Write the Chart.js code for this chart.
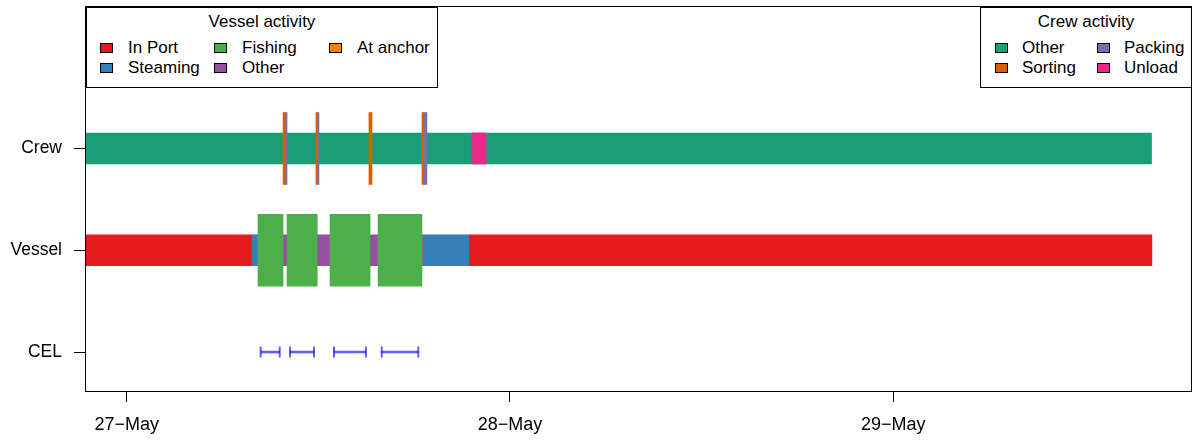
<!DOCTYPE html>
<html>
<head>
<meta charset="utf-8">
<script src="https://cdn.jsdelivr.net/npm/chart.js@4"></script>
<style>
body { margin: 0; background: #fff; }
#wrap { position: relative; width: 1192px; height: 441px; font-family: "Liberation Sans", Arial, sans-serif; }
.legend { position: absolute; top: 7px; height: 81px; border: 1px solid #000; background: #fff; box-sizing: border-box; font-size: 17px; color: #000; }
.legend .title { position: absolute; left: 0; right: 0; top: 4px; line-height: 20px; text-align: center; }
.legend .lab { position: absolute; line-height: 20px; white-space: nowrap; }
.legend .sw { position: absolute; width: 13px; height: 10px; border: 1px solid #000; box-sizing: border-box; }
</style>
</head>
<body>
<div id="wrap">
  <canvas id="chart" width="1192" height="441"></canvas>
  <div class="legend" id="legVessel" style="left:86px;width:352px"></div>
  <div class="legend" id="legCrew" style="left:980px;width:212px"></div>
</div>
<script>
// time in hours since 27-May 00:00
var tickHours = [0, 24, 48];
var tickLabels = ['27\u2212May', '28\u2212May', '29\u2212May'];
var rowLabels = ['CEL', 'Vessel', 'Crew']; // rows 1, 2, 3

// vessel activity
var vesselInPort = [[-2.55, 7.85], [21.43, 64.2]];
var vesselSteaming = [[7.85, 8.3], [18.55, 21.43]];
var vesselOther = [[8.3, 18.55]];
var vesselFishing = [[8.22, 9.79], [10.04, 11.93], [12.73, 15.24], [15.74, 18.49]];

// crew activity
var crewOther = [[-2.55, 64.18]];
var crewUnload = [[21.62, 22.5]];
var crewSorting = [[9.79, 9.96], [11.85, 11.98], [15.17, 15.36], [18.49, 18.61]];
var crewPacking = [[9.96, 10.04], [11.98, 12.04], [18.61, 18.8]];

// CEL hauls
var celHauls = [[8.39, 9.58], [10.23, 11.73], [12.98, 14.98], [15.97, 18.26]];

var vesselNames = ['In Port', 'Steaming', 'Fishing', 'Other', 'At anchor'];
var vesselColors = ['#E41A1C', '#377EB8', '#4DAF4A', '#984EA3', '#FF7F00'];
var crewNames = ['Other', 'Sorting', 'Packing', 'Unload'];
var crewColors = ['#1B9E77', '#D95F02', '#7570B3', '#E7298A'];
var celColor = 'rgba(0, 0, 255, 0.62)';

function segs(list, row) {
    return list.map(function (s) { return { x: s, y: row }; });
}
function bars(label, list, row, color, thick, order) {
    return { type: 'bar', label: label, data: segs(list, row), backgroundColor: color,
        borderWidth: 0, barThickness: thick, grouped: false, order: order };
}

var caps = [];
celHauls.forEach(function (h) { caps.push({ x: h[0], y: 1 }, { x: h[1], y: 1 }); });

// frame round the plot
var boxPlugin = {
    id: 'box',
    afterDraw: function (chart) {
        var c = chart.ctx, a = chart.chartArea;
        c.save();
        c.strokeStyle = '#000';
        c.lineWidth = 1;
        c.strokeRect(a.left - 0.5, a.top - 0.5, a.right - a.left + 1, a.bottom - a.top + 1);
        c.restore();
    }
};

var ctx = document.getElementById('chart').getContext('2d');
var myChart = new Chart(ctx, {
    type: 'bar',
    data: {
        datasets: [
            { type: 'scatter', label: 'CEL caps', data: caps, pointStyle: 'line', rotation: 90,
              radius: 5.5, borderWidth: 2, borderColor: celColor, order: 0 },
            bars('CEL', celHauls, 1, celColor, 2, 1),
            bars('Packing', crewPacking, 3, crewColors[2], 72, 2),
            bars('Sorting', crewSorting, 3, crewColors[1], 72, 3),
            bars('Unload', crewUnload, 3, crewColors[3], 31, 4),
            bars('Crew other', crewOther, 3, crewColors[0], 31, 5),
            bars('Fishing', vesselFishing, 2, vesselColors[2], 72, 2),
            bars('Vessel other', vesselOther, 2, vesselColors[3], 31, 6),
            bars('Steaming', vesselSteaming, 2, vesselColors[1], 31, 6),
            bars('In Port', vesselInPort, 2, vesselColors[0], 31, 6)
        ]
    },
    options: {
        indexAxis: 'y',
        responsive: false,
        animation: false,
        layout: { autoPadding: false, padding: { top: 7, right: 1, left: 0, bottom: 0 } },
        plugins: { legend: { display: false }, tooltip: { enabled: false } },
        scales: {
            x: {
                type: 'linear',
                min: -2.55,
                max: 66.65,
                offset: false,
                border: { display: false },
                grid: { offset: false, drawOnChartArea: false, drawTicks: true, tickLength: 11, color: '#000' },
                afterBuildTicks: function (axis) { axis.ticks = tickHours.map(function (v) { return { value: v }; }); },
                afterFit: function (axis) {
                    axis.height = 50;
                    axis.paddingLeft = 0;
                    axis.paddingRight = 0;
                },
                ticks: {
                    padding: 12,
                    color: '#000',
                    font: { family: '"Liberation Sans", Arial, sans-serif', size: 18 },
                    callback: function (value) { return tickLabels[tickHours.indexOf(value)]; }
                }
            },
            y: {
                type: 'linear',
                min: 0.617,
                max: 4.39,
                offset: false,
                border: { display: false },
                grid: { offset: false, drawOnChartArea: false, drawTicks: true, tickLength: 12, color: '#000' },
                afterBuildTicks: function (axis) { axis.ticks = [1, 2, 3].map(function (v) { return { value: v }; }); },
                afterFit: function (axis) {
                    axis.width = 86;
                    axis.paddingTop = 0;
                    axis.paddingBottom = 0;
                },
                ticks: {
                    padding: 12,
                    color: '#000',
                    font: { family: '"Liberation Sans", Arial, sans-serif', size: 17.5 },
                    callback: function (value) { return rowLabels[value - 1]; }
                }
            }
        }
    },
    plugins: [boxPlugin]
});

// R style legends, filled column by column
function buildLegend(id, title, names, colors, swX, textX) {
    var box = document.getElementById(id);
    var t = document.createElement('div');
    t.className = 'title';
    t.textContent = title;
    box.appendChild(t);
    var rowsY = [39.7, 59.7];
    names.forEach(function (name, i) {
        var col = Math.floor(i / 2), row = i % 2;
        var sw = document.createElement('div');
        sw.className = 'sw';
        sw.style.left = swX[col] + 'px';
        sw.style.top = (rowsY[row] - 5) + 'px';
        sw.style.background = colors[i];
        box.appendChild(sw);
        var lab = document.createElement('div');
        lab.className = 'lab';
        lab.style.left = textX[col] + 'px';
        lab.style.top = (rowsY[row] - 10) + 'px';
        lab.textContent = name;
        box.appendChild(lab);
    });
}
buildLegend('legVessel', 'Vessel activity', vesselNames, vesselColors, [13, 127, 242], [41, 155, 270]);
buildLegend('legCrew', 'Crew activity', crewNames, crewColors, [14, 116], [41, 143]);
</script>
</body>
</html>
